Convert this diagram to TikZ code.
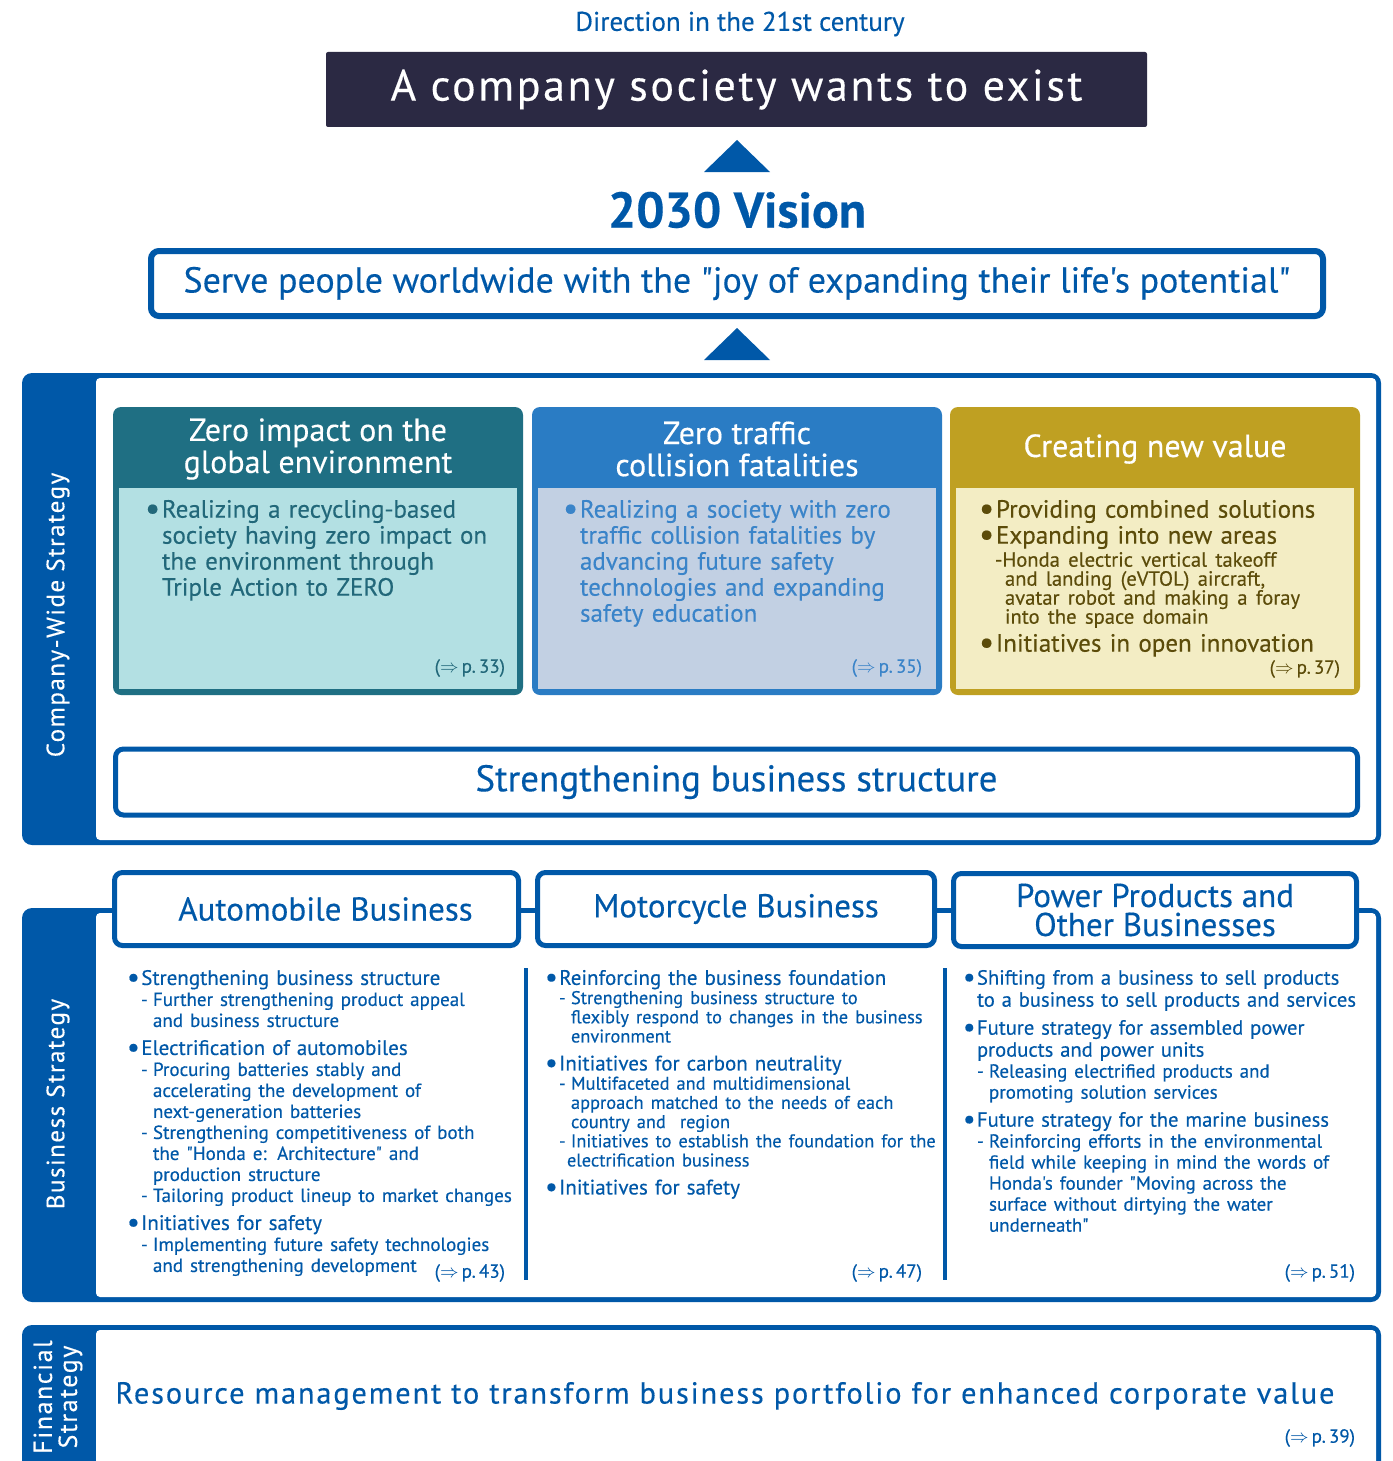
\documentclass[tikz,border=0pt]{standalone}
\usepackage{fontspec}
\setmainfont{PT Sans}[Ligatures=TeXOff,FakeBold=0.3]
\newfontfamily\spread{PT Sans}[LetterSpace=6,Ligatures=TeXOff,FakeBold=0.3]
\usepackage{tikz}
\usetikzlibrary{calc}

\definecolor{hblue}{HTML}{0058A8}
\definecolor{navy}{HTML}{2B2943}
\definecolor{headteal}{HTML}{1F6F83}
\definecolor{bodyteal}{HTML}{B3E0E3}
\definecolor{textteal}{HTML}{22687A}
\definecolor{headsky}{HTML}{2A7CC4}
\definecolor{bodysky}{HTML}{C2D0E3}
\definecolor{textsky}{HTML}{3A84C9}
\definecolor{headgold}{HTML}{BFA022}
\definecolor{bodygold}{HTML}{F3EDC4}
\definecolor{textgold}{HTML}{5C4C0A}

\newcommand{\bul}{\makebox[0.68em][l]{\raisebox{-0.08em}{\scalebox{1.35}{\textbullet}}}}
\newcommand{\dsh}{\hspace*{7pt}\makebox[6pt][l]{-}}
\newcommand{\ind}{\hspace*{13pt}}
\newcommand{\hng}{\hspace*{0.68em}}
\newcommand{\pref}[1]{($\Rightarrow$\,p.\,#1)}
\newcommand{\sm}{\fontsize{9.5}{10.5}\selectfont}

\begin{document}
\begin{tikzpicture}[x=0.5pt,y=-0.5pt,
	every node/.style={inner sep=0pt,outer sep=0pt},
	frame/.style={draw=hblue,fill=white,line width=2.5pt,rounded corners=4pt,text=hblue},
	side/.style={rotate=90,text=white,align=center,font=\spread\fontsize{12.5}{13}\selectfont},
	head/.style={text=white,align=center,font=\fontsize{16}{16}\selectfont},
	body/.style={anchor=north west,align=left,text width=210pt,font=\fontsize{12.5}{13}\selectfont},
	col/.style={anchor=north west,align=left,text width=230pt,text=hblue,font=\fontsize{10.5}{11}\selectfont},
	pgref/.style={anchor=east,font=\fontsize{9.5}{10}\selectfont}]
\clip (0,0) rectangle (1392,1461);

% top
\node[text=hblue,font=\fontsize{13.5}{15}\selectfont] (dir) at (740,24) {Direction in the 21st century};
\node[fill=navy,text=white,rounded corners=1pt,minimum width=410.5pt,minimum height=37.5pt,
	font=\spread\fontsize{22}{24}\selectfont] (aim) at (736.5,89.5) {A company society wants to exist};
\node[text=hblue,font=\fontsize{25}{28}\selectfont\bfseries] (vision) at (737,210) {2030 Vision};
\node[frame,line width=3pt,minimum width=586pt,minimum height=32.5pt,
	font=\fontsize{18}{19}\selectfont] (serve) at (737,283.5)
	{Serve people worldwide with the "joy of expanding their life's potential"};
\foreach \y in {140,328,702}
	\fill[hblue] (704,\y+32) -- (737,\y) -- (770,\y+32) -- cycle;

% company-wide strategy
\fill[hblue,rounded corners=5pt] (22,373) rectangle (1381,845);
\fill[white,rounded corners=2pt] (96,378) rectangle (1376,840);
\node[side] (cws) at (58,615) {Company-Wide Strategy};
\foreach \x/\c in {113/teal,532/sky,950/gold}{
	\fill[head\c,rounded corners=4pt] (\x,407) rectangle (\x+410,695);
	\fill[body\c] (\x+6,488) rectangle (\x+404,689);
}
\node[head] (env) at (318,449) {Zero impact on the\\global environment};
\node[head] (traffic) at (737,449) {Zero traffic\\collision fatalities};
\node[head] (newval) at (1155,449) {Creating new value};
\node[body,text=textteal] (envtxt) at (145,500)
	{\bul Realizing a recycling-based\\\hng society having zero impact on\\\hng the environment through\\\hng Triple Action to ZERO};
\node[body,text=textsky] (traffictxt) at (563,500)
	{\bul Realizing a society with zero\\\hng traffic collision fatalities by\\\hng advancing future safety\\\hng technologies and expanding\\\hng safety education};
\node[body,text=textgold,text width=220pt] (newvaltxt) at (979,500)
	{\bul Providing combined solutions\\\bul Expanding into new areas\par
	\vspace{2pt}{\fontsize{10.3}{9.5}\selectfont\lineskiplimit=-10pt\lineskip=0pt
	\hspace*{8pt}-Honda electric vertical takeoff\\\ind and landing (eVTOL) aircraft,\\\ind avatar robot and making a foray\\\ind into the space domain\par}
	\vspace{1pt}\bul Initiatives in open innovation};
\node[pgref,text=textteal] (envref) at (505,668) {\pref{33}};
\node[pgref,text=textsky] (trafficref) at (922,668) {\pref{35}};
\node[pgref,text=textgold] (newvalref) at (1340,669) {\pref{37}};
\node[frame,minimum width=621pt,minimum height=33pt,font=\fontsize{18.5}{19}\selectfont] (base) at (736.5,782)
	{Strengthening business structure};

% business strategy
\fill[hblue,rounded corners=5pt] (22,908) rectangle (1381,1302);
\fill[white,rounded corners=2pt] (96,913) rectangle (1376,1297);
\node[side] (bs) at (58,1104) {Business Strategy};
\node[frame,minimum width=202pt,minimum height=36.5pt,font=\fontsize{16.5}{14.5}\selectfont] (auto) at (316.5,909) {\hspace*{9pt}Automobile Business};
\node[frame,minimum width=198.5pt,minimum height=36.5pt,font=\fontsize{16.5}{14.5}\selectfont] (moto) at (736,909) {Motorcycle Business};
\node[frame,minimum width=201.5pt,minimum height=36.5pt,align=center,font=\fontsize{16.5}{14.5}\selectfont] (power) at (1155,910) {Power Products and\\Other Businesses};
\draw[hblue,line width=2pt] (526,968) -- (526,1280) (945,968) -- (945,1280);
\node[col] (autotxt) at (127,970)
	{\bul Strengthening business structure\par
	{\sm\dsh Further strengthening product appeal\\\ind and business structure\par}
	\vspace{3pt}\bul Electrification of automobiles\par
	{\sm\dsh Procuring batteries stably and\\\ind accelerating the development of\\\ind next-generation batteries\\\dsh Strengthening competitiveness of both\\\ind the "Honda e: Architecture" and\\\ind production structure\\\dsh Tailoring product lineup to market changes\par}
	\vspace{3pt}\bul Initiatives for safety\par
	{\sm\dsh Implementing future safety technologies\\\ind and strengthening development\par}};
\node[col] (mototxt) at (545,970)
	{\bul Reinforcing the business foundation\par
	{\fontsize{9.2}{9.6}\selectfont\dsh Strengthening business structure to\\\ind flexibly respond to changes in the business\\\ind environment\par}
	\vspace{3pt}\bul Initiatives for carbon neutrality\par
	{\fontsize{9.2}{9.6}\selectfont\dsh Multifaceted and multidimensional\\\ind approach matched to the needs of each\\\ind country and\ \ region\\\dsh Initiatives to establish the foundation for the\\\hspace*{11pt}electrification business\par}
	\vspace{3pt}\bul Initiatives for safety};
\node[col,font=\fontsize{10.3}{11}\selectfont] (powertxt) at (963,970)
	{\bul Shifting from a business to sell products\\\hng to a business to sell products and services\par
	\vspace{3pt}\bul Future strategy for assembled power\\\hng products and power units\par
	{\sm\dsh Releasing electrified products and\\\ind promoting solution services\par}
	\vspace{3pt}\bul Future strategy for the marine business\par
	{\sm\dsh Reinforcing efforts in the environmental\\\ind field while keeping in mind the words of\\\ind Honda's founder "Moving across the\\\ind surface without dirtying the water\\\ind underneath"\par}};
\node[pgref,text=hblue] (autoref) at (505,1273) {\pref{43}};
\node[pgref,text=hblue] (motoref) at (922,1273) {\pref{47}};
\node[pgref,text=hblue] (powerref) at (1355,1273) {\pref{51}};

% financial strategy
\fill[hblue,rounded corners=5pt] (22,1325) rectangle (1381,1500);
\fill[white,rounded corners=2pt] (96,1330) rectangle (1376,1500);
\node[side,font=\spread\fontsize{13}{12.5}\selectfont] (fs) at (58,1397) {Financial\\Strategy};
\node[text=hblue,font=\spread\fontsize{15.2}{16}\selectfont] (resource) at (725,1396)
	{Resource management to transform business portfolio for enhanced corporate value};
\node[pgref,text=hblue] (finref) at (1355,1438) {\pref{39}};
\end{tikzpicture}
\end{document}
